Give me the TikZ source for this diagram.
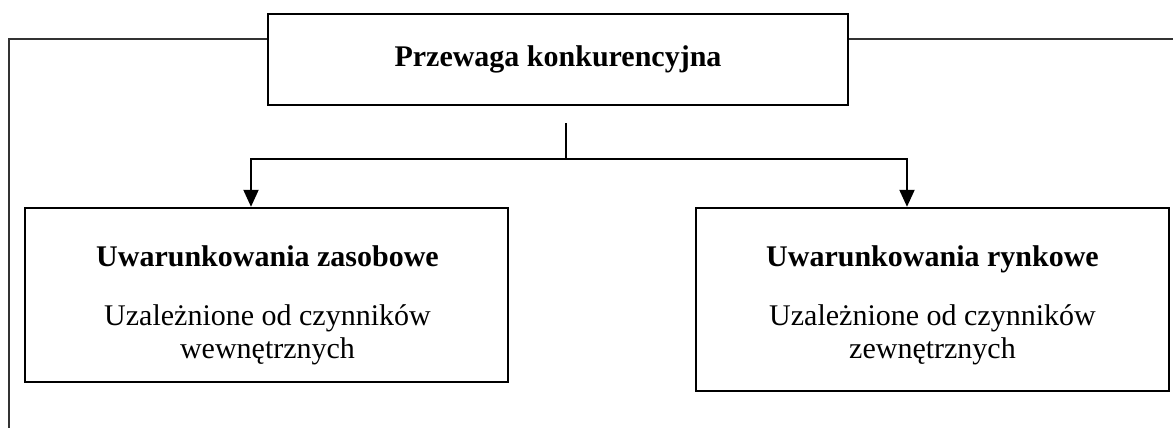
\documentclass[tikz,border=0pt]{standalone}
\usepackage{fontspec}
\setmainfont{Liberation Serif}
\usetikzlibrary{arrows.meta}
\begin{document}
\begin{tikzpicture}[x=1pt, y=-1pt,
        box/.style={draw, line width=2.4pt, inner sep=0pt},
        boxtext/.style={align=center, inner sep=0pt, anchor=base, font=\fontsize{30}{33}\selectfont},
        link/.style={line width=2pt},
        frame/.style={line width=2pt, color=black!80},
        arr/.style={line width=2pt, -{Triangle[width=15pt,length=17pt]}}]
        \useasboundingbox (0,0) rectangle (1173,428);
        \node[box, minimum width=580pt, minimum height=91pt,
            font=\fontsize{30}{33}\selectfont\bfseries] (przewaga) at (558,59.5) {Przewaga konkurencyjna};
        \node[box, minimum width=483pt, minimum height=174pt] (zasobowe) at (266.5,295) {};
        \node[box, minimum width=473pt, minimum height=183pt] (rynkowe) at (932.5,299.5) {};
        \node[boxtext] (zasobowe-txt) at (267.5,358)
            {\textbf{Uwarunkowania zasobowe}\\[26pt] Uzależnione od czynników\\wewnętrznych};
        \node[boxtext] (rynkowe-txt) at (932.5,358)
            {\textbf{Uwarunkowania rynkowe}\\[26pt] Uzależnione od czynników\\zewnętrznych};
        \coordinate (lcorner) at (9,39);
        \coordinate (lend) at (9,428);
        \coordinate (rend) at (1173,39);
        \coordinate (stub) at (566,123);
        \coordinate (fork) at (566,159);
        \coordinate (lfork) at (251,159);
        \coordinate (rfork) at (907,159);
        \draw[frame] (przewaga.west |- lcorner) -- (lcorner) -- (lend);
        \draw[frame] (przewaga.east |- rend) -- (rend);
        \draw[link] (stub) -- (fork);
        \draw[arr] (fork) -| (zasobowe.north -| lfork);
        \draw[arr] (fork) -| (rynkowe.north -| rfork);
    \end{tikzpicture}
\end{document}
